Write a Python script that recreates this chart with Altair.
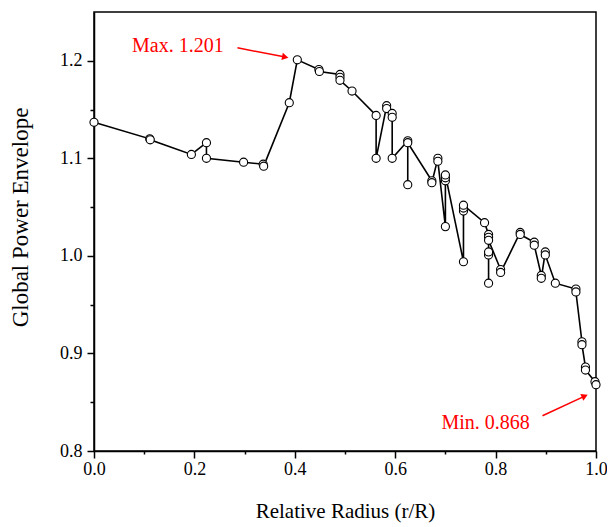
import altair as alt
import pandas as pd

# ---- data (in plotted path order) ----
radius = [0.000, 0.111, 0.112, 0.194, 0.224, 0.224, 0.298, 0.337, 0.338,
          0.389, 0.405, 0.448, 0.449, 0.490, 0.490, 0.490, 0.514,
          0.562, 0.562, 0.583, 0.583, 0.594, 0.594, 0.594,
          0.625, 0.625, 0.625, 0.673, 0.673, 0.685, 0.685,
          0.700, 0.700, 0.700, 0.700, 0.736, 0.736, 0.736, 0.736,
          0.778, 0.786, 0.786, 0.786, 0.786, 0.786, 0.786,
          0.810, 0.810, 0.849, 0.849, 0.877, 0.877, 0.891, 0.891,
          0.899, 0.899, 0.919, 0.960, 0.960, 0.972, 0.972,
          0.979, 0.979, 0.998, 1.000]
power = [1.137, 1.120, 1.119, 1.104, 1.116, 1.100, 1.096, 1.094, 1.092,
         1.157, 1.201, 1.191, 1.189, 1.186, 1.183, 1.180, 1.169,
         1.144, 1.100, 1.154, 1.151, 1.146, 1.142, 1.100,
         1.118, 1.073, 1.116, 1.077, 1.075, 1.100, 1.097,
         1.030, 1.077, 1.080, 1.083, 0.994, 1.046, 1.049, 1.052,
         1.034, 1.022, 1.019, 0.972, 1.001, 1.004, 1.016,
         0.986, 0.983, 1.024, 1.022, 1.014, 1.011, 0.980, 0.977,
         1.004, 1.001, 0.972, 0.966, 0.963, 0.912, 0.909,
         0.886, 0.883, 0.871, 0.868]

x_major = [0.0, 0.2, 0.4, 0.6, 0.8, 1.0]
x_minor = [0.1, 0.3, 0.5, 0.7, 0.9]
y_major = [0.8, 0.9, 1.0, 1.1, 1.2]
y_minor = [0.85, 0.95, 1.05, 1.15]

note_text = ["Max. 1.201", "Min. 0.868"]
note_x = [0.167, 0.780]
note_y = [1.2153, 0.8286]

arrow_x1 = [0.2857, 0.8934]
arrow_y1 = [1.2133, 0.8361]
arrow_x2 = [0.381, 0.9776]
arrow_y2 = [1.2038, 0.8563]
arrow_angle = [11, 335]

FONT = "Liberation Serif"

df = pd.DataFrame({"r": radius, "p": power, "i": list(range(len(radius)))})
notes = pd.DataFrame({"t": note_text, "x": note_x, "y": note_y})
arrows = pd.DataFrame({"x1": arrow_x1, "y1": arrow_y1, "x2": arrow_x2,
                       "y2": arrow_y2, "ang": arrow_angle})

xs = alt.Scale(domain=[0, 1], nice=False, zero=False)
ys = alt.Scale(domain=[0.8, 1.25], nice=False, zero=False)

x_axis = alt.Axis(orient="bottom", values=x_major, format=".1f", tickSize=7,
                  labelFontSize=18, labelPadding=2, labelFlush=False,
                  labelOverlap=False, grid=False,
                  title="Relative Radius (r/R)", titleFontSize=21,
                  titleFontWeight="normal", titleY=60, titleBaseline="middle")
y_axis = alt.Axis(orient="left", values=y_major, format=".1f", tickSize=7,
                  labelFontSize=18, labelPadding=5, labelFlush=False,
                  labelOverlap=False, grid=False,
                  title="Global Power Envelope", titleFontSize=23,
                  titleFontWeight="normal", titleX=-74, titleY=205,
                  titleBaseline="middle", titleAlign="center")
x_axis_minor = alt.Axis(orient="bottom", values=x_minor, tickSize=3,
                        labels=False, domain=False, grid=False, title=None)
y_axis_minor = alt.Axis(orient="left", values=y_minor, tickSize=4,
                        labels=False, domain=False, grid=False, title=None)

line = alt.Chart(df).mark_line(color="black", strokeWidth=1.6).encode(
    x=alt.X("r:Q", scale=xs, axis=x_axis),
    y=alt.Y("p:Q", scale=ys, axis=y_axis),
    order="i:Q",
)
minor = alt.Chart(df).mark_point(opacity=0).encode(
    x=alt.X("r:Q", scale=xs, axis=x_axis_minor),
    y=alt.Y("p:Q", scale=ys, axis=y_axis_minor),
)
points = alt.Chart(df).mark_circle(
    fill="white", stroke="black", strokeWidth=1.1, opacity=1, size=66
).encode(
    x=alt.X("r:Q", scale=xs, axis=None),
    y=alt.Y("p:Q", scale=ys, axis=None),
)
arrow_lines = alt.Chart(arrows).mark_rule(color="red", strokeWidth=1.5).encode(
    x=alt.X("x1:Q", scale=xs, axis=None),
    y=alt.Y("y1:Q", scale=ys, axis=None),
    x2="x2:Q",
    y2="y2:Q",
)
arrow_heads = alt.Chart(arrows).mark_point(
    shape="triangle-right", filled=True, color="red", opacity=1, size=55
).encode(
    x=alt.X("x2:Q", scale=xs, axis=None),
    y=alt.Y("y2:Q", scale=ys, axis=None),
    angle=alt.Angle("ang:Q", scale=None),
)
labels = alt.Chart(notes).mark_text(
    color="red", font=FONT, fontSize=20, align="center", baseline="middle"
).encode(
    x=alt.X("x:Q", scale=xs, axis=None),
    y=alt.Y("y:Q", scale=ys, axis=None),
    text="t:N",
)

chart = alt.layer(line, minor, points, arrow_lines, arrow_heads, labels).resolve_axis(
    x="independent", y="independent"
).properties(
    width=502,
    height=439,
    autosize=alt.AutoSizeParams(type="none"),
    padding={"left": 86, "top": 4, "right": 11, "bottom": 73},
).configure_view(
    stroke="black", strokeWidth=1.5
).configure_axis(
    domainColor="black", tickColor="black", labelColor="black",
    titleColor="black", labelFont=FONT, titleFont=FONT,
    domainWidth=1.5, tickWidth=1.5,
)

chart.save("out.html", embed_options={"renderer": "svg", "actions": False})
